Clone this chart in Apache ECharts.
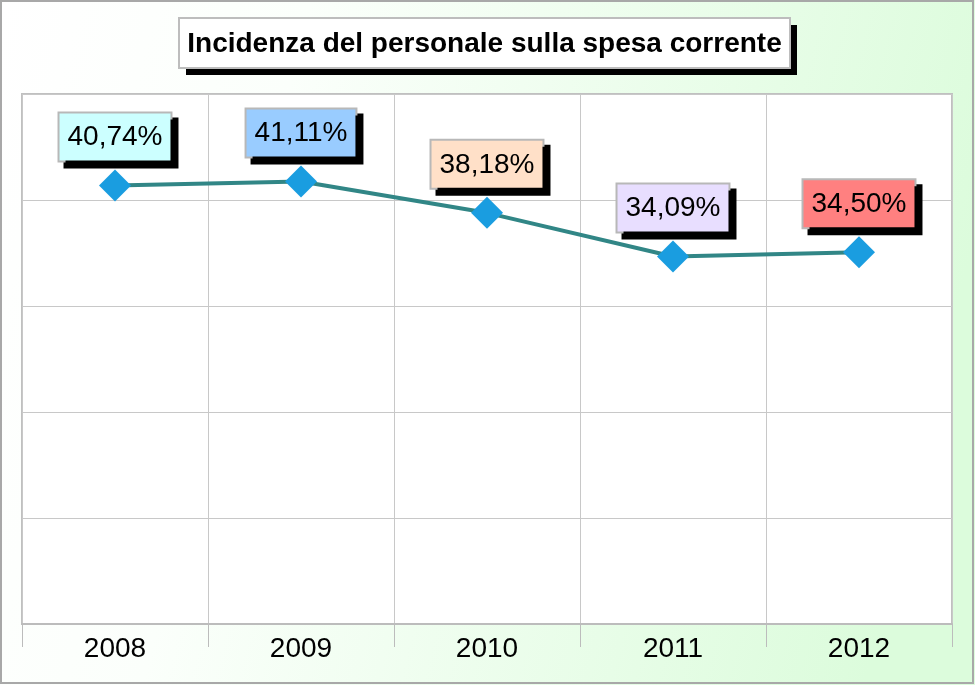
<!DOCTYPE html>
<html>
<head>
<meta charset="utf-8">
<script src="https://cdn.jsdelivr.net/npm/echarts@6/dist/echarts.min.js"></script>
<style>
html,body{margin:0;padding:0;}
#chart{width:975px;height:685px;}
</style>
</head>
<body>
<div id="chart"></div>
<script>
const titleText = 'Incidenza del personale sulla spesa corrente';
const categories = ['2008', '2009', '2010', '2011', '2012'];
const values = [40.74, 41.11, 38.18, 34.09, 34.50];
const labelColors = ['#CCFFFF', '#99CCFF', '#FFE0C8', '#E8DEFF', '#FF8080'];

const FONT = "'Liberation Sans', Arial, sans-serif";

const chart = echarts.init(document.getElementById('chart'));
chart.setOption({
  animation: false,
  backgroundColor: {
    type: 'linear', x: 0, y: 0, x2: 1, y2: 0.35,
    colorStops: [
      { offset: 0, color: '#ffffff' },
      { offset: 0.3, color: '#fbfffb' },
      { offset: 1, color: '#dcfcdc' }
    ]
  },
  graphic: [
    {
      type: 'rect',
      shape: { x: 1, y: 1, width: 972, height: 682 },
      style: { fill: 'none', stroke: '#a8a8a8', lineWidth: 2 },
      z: 100
    },
    {
      type: 'rect',
      shape: { x: 186, y: 25, width: 611, height: 50 },
      style: { fill: '#000000' },
      z: 10
    },
    {
      type: 'rect',
      shape: { x: 179, y: 18, width: 611, height: 50 },
      style: { fill: '#ffffff', stroke: '#bdbdbd', lineWidth: 2 },
      z: 11
    },
    {
      type: 'text',
      x: 484.5,
      y: 44,
      z: 12,
      style: {
        text: titleText,
        x: 0, y: 0,
        align: 'center',
        verticalAlign: 'middle',
        fill: '#000000',
        font: "bold 28px 'Liberation Sans', Arial, sans-serif"
      }
    }
  ],
  grid: {
    left: 22, right: 23, top: 94, bottom: 61,
    show: true,
    backgroundColor: '#ffffff',
    borderColor: '#c0c0c0',
    borderWidth: 2
  },
  xAxis: {
    type: 'category',
    data: categories,
    boundaryGap: true,
    axisLine: { show: true, lineStyle: { color: '#bcbcbc', width: 2 } },
    axisTick: { show: true, length: 23, lineStyle: { color: '#bcbcbc', width: 1 } },
    axisLabel: { fontFamily: FONT, fontSize: 28, color: '#000000', margin: 11 },
    splitLine: { show: true, lineStyle: { color: '#c8c8c8', width: 1 } }
  },
  yAxis: [{
    type: 'value',
    min: 0, max: 50, interval: 10,
    axisLine: { show: false },
    axisTick: { show: false },
    axisLabel: { show: false },
    splitLine: { show: true, lineStyle: { color: '#c8c8c8', width: 1 } }
  }, {
    type: 'value',
    min: -0.3, max: 49.3,
    show: false,
    splitLine: { show: false }
  }],
  series: [{
    type: 'line',
    yAxisIndex: 1,
    data: values.map((v, i) => ({
      value: v,
      label: { backgroundColor: labelColors[i] }
    })),
    symbol: 'diamond',
    symbolSize: 32,
    itemStyle: { color: '#1a9de0' },
    lineStyle: { color: '#318686', width: 4 },
    label: {
      show: true,
      position: 'top',
      distance: 9,
      formatter: p => p.value.toFixed(2).replace('.', ',') + '%',
      fontFamily: FONT,
      fontSize: 28,
      color: '#000000',
      padding: [10, 8, 9, 8],
      borderColor: '#b8b8b8',
      borderWidth: 2,
      shadowColor: '#000000',
      shadowOffsetX: 6,
      shadowOffsetY: 6,
      shadowBlur: 0
    }
  }]
});
</script>
</body>
</html>
